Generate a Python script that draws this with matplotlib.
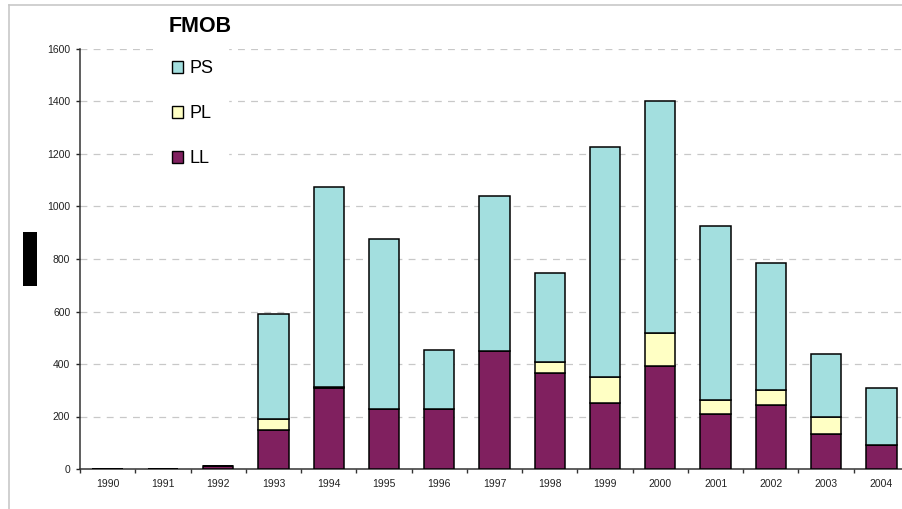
import numpy as np
import matplotlib
matplotlib.use("Agg")
from matplotlib import pyplot as plt
from matplotlib.patches import Patch, Rectangle
from matplotlib.lines import Line2D

years = ["1990", "1991", "1992", "1993", "1994", "1995", "1996", "1997",
         "1998", "1999", "2000", "2001", "2002", "2003", "2004"]
ll = [0, 0, 10, 147, 307, 228, 228, 449, 367, 250, 391, 210, 244, 135, 91]
pl = [0, 0, 0, 45, 4, 0, 0, 0, 42, 102, 127, 53, 57, 64, 0]
ps = [0, 0, 0, 400, 764, 647, 226, 591, 339, 875, 882, 662, 484, 240, 216]

c_ll = "#80205F"
c_pl = "#FFFFC4"
c_ps = "#A3DFDF"

plt.rcParams['font.family'] = ['Liberation Sans', 'DejaVu Sans']

W, H = 902, 509
fig = plt.figure(figsize=(W / 100, H / 100), dpi=100)
# axes run past the right edge like in the original crop
ax = fig.add_axes([80 / W, (H - 469) / H, 829 / W, 420 / H])

x = np.arange(len(years))
ll_a = np.array(ll)
pl_a = np.array(pl)
ps_a = np.array(ps)
kw = dict(width=0.55, edgecolor="black", linewidth=1.1, zorder=3)
ax.bar(x, ll_a, color=c_ll, **kw)
ax.bar(x, pl_a, bottom=ll_a, color=c_pl, **kw)
ax.bar(x, ps_a, bottom=ll_a + pl_a, color=c_ps, **kw)

ax.set_xlim(-0.5, len(years) - 0.5)
ax.set_ylim(0, 1600)
ax.set_yticks(np.arange(0, 1601, 200))
ax.set_xticks(x)
ax.set_xticklabels(years)
ax.set_xticks(np.arange(-0.5, len(years)), minor=True)
ax.tick_params(axis="x", which="major", length=0, pad=7, labelsize=7.5, colors="#222222")
ax.tick_params(axis="x", which="minor", length=3, width=1, direction="out", color="#333333")
ax.tick_params(axis="y", length=3, width=1, pad=4, labelsize=7.5, colors="#222222")

ax.yaxis.grid(True, color="#C8C8C8", linestyle=(0, (5.5, 5)), linewidth=0.9, zorder=0)
ax.set_axisbelow(True)
for s in ["top", "right"]:
    ax.spines[s].set_visible(False)
for s in ["left", "bottom"]:
    ax.spines[s].set_color("#333333")
    ax.spines[s].set_linewidth(1.1)

handles = [Patch(facecolor=c_ps, edgecolor="black", label="PS"),
           Patch(facecolor=c_pl, edgecolor="black", label="PL"),
           Patch(facecolor=c_ll, edgecolor="black", label="LL")]
leg = ax.legend(handles=handles, loc="upper left",
                bbox_to_anchor=(158 / W, 1 - 46 / H), bbox_transform=fig.transFigure,
                fontsize=13, frameon=True, fancybox=False, framealpha=1,
                facecolor="white", edgecolor="white",
                handlelength=0.6, handleheight=0.6, handletextpad=0.35,
                labelspacing=1.55, borderpad=0.8, borderaxespad=0)
leg.set_zorder(5)

fig.text(200 / W, 1 - 27 / H, "FMOB", fontsize=15.5, fontweight="bold",
         ha="center", va="center")

# blacked out y label
fig.patches.append(Rectangle((23 / W, 1 - 286 / H), 14 / W, 54 / H,
                             transform=fig.transFigure, facecolor="black",
                             edgecolor="none"))

# light grey chart-area border
fig.add_artist(Line2D([9 / W, 9 / W], [0, 1 - 5 / H], transform=fig.transFigure,
                      color="#C8C8C8", linewidth=1.2))
fig.add_artist(Line2D([9 / W, 1], [1 - 5 / H, 1 - 5 / H], transform=fig.transFigure,
                      color="#C8C8C8", linewidth=1.2))

fig.savefig("out.png", dpi=100)
